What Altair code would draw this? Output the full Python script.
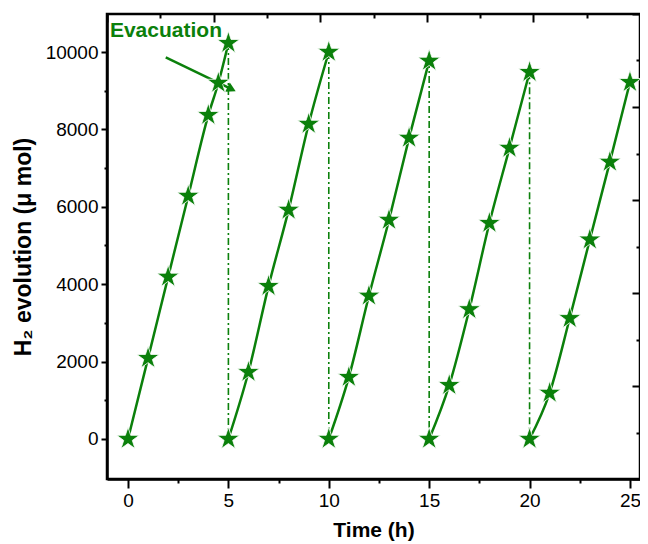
import altair as alt
import pandas as pd

# ---- data ----
time_h = [0, 1, 2, 3, 4, 4.5, 5,
          5, 6, 7, 8, 9, 10,
          10, 11, 12, 13, 14, 15,
          15, 16, 17, 18, 19, 20,
          20, 21, 22, 23, 24, 25]
h2_umol = [0, 2090, 4190, 6280, 8370, 9200, 10230,
           0, 1730, 3950, 5920, 8140, 10000,
           0, 1600, 3700, 5660, 7780, 9770,
           0, 1390, 3350, 5580, 7520, 9480,
           0, 1190, 3120, 5150, 7160, 9220]
cycle = [1] * 7 + [2] * 6 + [3] * 6 + [4] * 6 + [5] * 6

evac_time = [5, 10, 15, 20]
evac_top = [10230, 10000, 9770, 9480]

arrow_time = [1.88, 5.16]
arrow_h2 = [9860, 9040]

note_text = ["Evacuation"]
note_time = [-0.9]
note_h2 = [10390]

x_tick_values = [0, 2.5, 5, 7.5, 10, 12.5, 15, 17.5, 20, 22.5, 25]
y_tick_values = [0, 1000, 2000, 3000, 4000, 5000, 6000, 7000, 8000, 9000, 10000]
frame_major = [0, 2, 4, 6, 8, 10]
frame_minor = [1, 3, 5, 7, 9]

GREEN = "#0b800b"
FONT = "Liberation Sans"
STAR = ("M0,-1L0.2245,-0.309L0.951,-0.309L0.363,0.118L0.588,0.809L0,0.382"
        "L-0.588,0.809L-0.363,0.118L-0.951,-0.309L-0.2245,-0.309Z")

df = pd.DataFrame({"t": time_h, "v": h2_umol, "cycle": cycle})
evac = pd.DataFrame({"t": evac_time, "v": evac_top})
arrow = pd.DataFrame({"t": arrow_time, "v": arrow_h2})
head = arrow.iloc[[1]]
note = pd.DataFrame({"t": note_time, "v": note_h2, "label": note_text})

xs = alt.Scale(domain=[-1.046, 25.5], nice=False, zero=False)
ys = alt.Scale(domain=[-1034, 10982], nice=False, zero=False)

xaxis = alt.Axis(
    title="Time (h)", values=x_tick_values, grid=False,
    labelExpr="datum.value % 5 === 0 ? datum.label : ''",
    tickSize={"condition": {"test": "datum.value % 5 === 0", "value": 9}, "value": 4},
    tickWidth=2, tickColor="black", domainColor="black", domainWidth=2.5,
    labelFont=FONT, labelFontSize=19, labelColor="black", labelPadding=3,
    titleFont=FONT, titleFontSize=21, titleFontWeight="bold", titleColor="black",
    titlePadding=9,
)
yaxis = alt.Axis(
    title="H₂ evolution (μ mol)", values=y_tick_values, grid=False,
    labelExpr="datum.value % 2000 === 0 ? datum.label : ''",
    format="d",
    tickSize={"condition": {"test": "datum.value % 2000 === 0", "value": 6}, "value": 3},
    tickWidth=2, tickColor="black", domainColor="black", domainWidth=2.5,
    labelFont=FONT, labelFontSize=19, labelColor="black", labelPadding=3,
    titleFont=FONT, titleFontSize=23, titleFontWeight="bold", titleColor="black",
    titlePadding=10,
)

X = alt.X("t:Q", scale=xs, axis=xaxis)
Y = alt.Y("v:Q", scale=ys, axis=yaxis)

lines = alt.Chart(df).mark_line(
    color=GREEN, strokeWidth=2.5, interpolate="monotone"
).encode(x=X, y=Y, detail="cycle:N")

rules = alt.Chart(evac).mark_rule(
    color=GREEN, strokeWidth=1.6, strokeDash=[7, 3, 2, 3]
).encode(x=X, y=Y, y2=alt.datum(0))

arrow_line = alt.Chart(arrow).mark_line(color=GREEN, strokeWidth=2.5).encode(x=X, y=Y)
arrow_head = alt.Chart(head).mark_point(
    shape="triangle-right", filled=True, fill=GREEN, opacity=1, size=110, angle=26,
    strokeWidth=0
).encode(x=X, y=Y)

stars = alt.Chart(df).mark_point(
    shape=STAR, filled=True, fill=GREEN, fillOpacity=1, opacity=1,
    stroke="white", strokeWidth=0.8, size=560
).encode(x=X, y=Y)

label = alt.Chart(note).mark_text(
    align="left", baseline="alphabetic", font=FONT, fontSize=21,
    fontWeight="bold", color=GREEN
).encode(x=X, y=Y, text="label:N")

main = alt.layer(lines, rules, arrow_line, arrow_head, stars, label)

frame_df = pd.DataFrame({"u": [0, 10]})
fs = alt.Scale(domain=[0, 10], nice=False, zero=False)


def frame_layer(vals, size):
    ax_top = alt.Axis(orient="top", values=vals, tickSize=size, offset=-size,
                      domain=False, labels=False, title=None, grid=False,
                      tickColor="black", tickWidth=2)
    ax_right = alt.Axis(orient="right", values=vals, tickSize=size, offset=-size,
                        domain=False, labels=False, title=None, grid=False,
                        tickColor="black", tickWidth=2)
    return alt.Chart(frame_df).mark_point(opacity=0).encode(
        x=alt.X("u:Q", scale=fs, axis=ax_top),
        y=alt.Y("u:Q", scale=fs, axis=ax_right),
    )


chart = alt.layer(
    main, frame_layer(frame_major, 8), frame_layer(frame_minor, 4)
).resolve_scale(x="independent", y="independent").properties(
    width=533, height=465,
    autosize=alt.AutoSizeParams(type="none"),
    padding={"left": 99, "top": 6, "right": 0, "bottom": 64},
    background="white",
).configure_view(stroke="black", strokeWidth=2.5)

chart.save("out.html", embed_options={"renderer": "svg", "actions": False})
